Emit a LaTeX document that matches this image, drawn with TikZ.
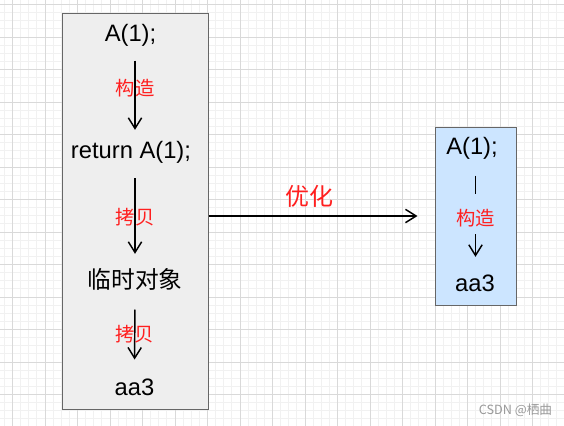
\documentclass[tikz,border=0pt]{standalone}
\usepackage{fontspec}
\setmainfont{Liberation Sans}
\newfontfamily\cjk{Noto Sans CJK SC}
\usetikzlibrary{arrows.meta}

\definecolor{leftfill}{HTML}{EEEEEE}
\definecolor{rightfill}{HTML}{CCE5FF}
\definecolor{boxline}{HTML}{666666}
\definecolor{gridmajor}{HTML}{D9D9D9}
\definecolor{gridminor}{HTML}{F1F1F1}
\definecolor{notered}{HTML}{FF1F1F}

\tikzset{every picture/.style={line width=0.75pt}}
\tikzset{
  code/.style={inner sep=0.75pt, text height=12.5pt, text depth=3.5pt, font=\fontsize{17.8}{21}\selectfont},
  cjkcode/.style={code, font=\cjk\fontsize{17.8}{21}\selectfont},
  note/.style={inner sep=0.75pt, text=notered, font=\cjk\fontsize{14.5}{17}\selectfont},
  optnote/.style={inner sep=0.75pt, text=notered, font=\cjk\fontsize{18}{21}\selectfont},
  flow/.style={line width=1.1pt, -{Straight Barb[length=8pt,width=10pt,line width=1.1pt]}},
  bar/.style={line width=1.1pt},
}

\begin{document}
\begin{tikzpicture}[x=0.75pt,y=0.75pt,yscale=-1,xscale=1]
\useasboundingbox (0,0) rectangle (564,425);

% Background grid
\begin{scope}
\clip (0,0) rectangle (564,425);
\fill[white] (0,0) rectangle (564,425);
\draw[gridminor, line width=0.6pt, shift={(12.5,4.5)}, step=8.125] (-16.25,-8.125) grid (560,430);
\draw[gridmajor, line width=0.75pt, shift={(12.5,4.5)}, step=32.5] (-32.5,-32.5) grid (560,430);
\end{scope}

% Shape: left box
\node[draw=boxline, fill=leftfill, minimum width=109.5pt, minimum height=297pt, inner sep=0pt] (left) at (135,211) {};
% Shape: right box
\node[draw=boxline, fill=rightfill, minimum width=60.75pt, minimum height=133.5pt, inner sep=0pt] (right) at (475.5,216) {};

% Text Node
\node[code] (a1) at (130.5,35) {A(1);};
% Text Node
\node[code] (ret) at (131,152) {return A(1);};
% Text Node
\node[cjkcode] (tmp) at (135,282) {临时对象};
% Text Node
\node[code] (aa) at (134.5,389) {aa3};

% Text Node
\node[code] (ra) at (472,148) {A(1);};
% Text Node
\node[note] (rlbl) at (475.5,218) {构造};
% Text Node
\node[code] (raa) at (475,285) {aa3};

% Straight Lines
\draw[flow, shorten <=10pt, shorten >=7.5pt] (a1.south -| tmp) -- (ret.north -| tmp) node[note, pos=0.44] {构造};
\draw[flow, shorten <=10.7pt, shorten >=12pt] (ret.south -| tmp) -- (tmp.north) node[note, pos=0.5] {拷贝};
\draw[flow, shorten <=11.5pt, shorten >=13pt] (tmp.south) -- (aa.north) node[note, pos=0.48] {拷贝};

% Straight Lines
\draw[bar, shorten <=11.5pt, shorten >=10pt] (ra.south -| rlbl) -- (rlbl.north);
\draw[flow, shorten <=4.5pt, shorten >=12pt] (rlbl.south) -- (raa.north -| rlbl);

% Straight Lines
\draw[flow, shorten >=12.75pt] (left.east |- right.west) -- (right.west);
% Text Node
\node[optnote] (opt) at (309.5,196) {优化};

% Text Node
\node[inner sep=0pt, text=black!40, font=\cjk\fontsize{9.5}{11}\selectfont] (mark) at (515.5,410) {CSDN @栖曲};

\end{tikzpicture}
\end{document}
